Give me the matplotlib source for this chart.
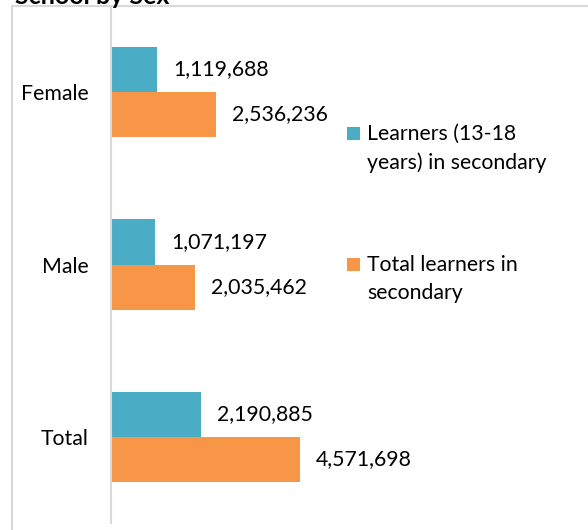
import matplotlib
matplotlib.use('Agg')
import matplotlib.pyplot as plt
from matplotlib.patches import Rectangle

plt.rcParams['font.family'] = ['Lato', 'DejaVu Sans']

# 数据
categories = ['Female', 'Male', 'Total']
learners_13_18 = [1119688, 1071197, 2190885]
total_learners = [2536236, 2035462, 4571698]
series_names = ['Learners (13-18\nyears) in secondary', 'Total learners in\nsecondary']

teal = '#4BACC6'
orange = '#F79646'
grid_gray = '#D9D9D9'

W, H = 588, 530
fig = plt.figure(figsize=(W / 100, H / 100), dpi=100)

# 外框 (被裁切)
fig.patches.append(Rectangle((12 / W, -0.2), 2, 1.2 - 6 / H, transform=fig.transFigure,
                             fill=False, edgecolor=grid_gray, linewidth=1.5))

# 被裁切的标题
fig.text(15 / W, 1 - 4 / H, 'School by Sex', fontsize=18, fontweight='bold',
         va='baseline', ha='left')

ax = fig.add_axes([111 / W, 1 - 523.25 / H, 227 / W, 517.5 / H])
ax.set_xlim(0, 5.5e6)
ax.set_ylim(2.5, -0.5)

h = 0.261
pos = list(range(len(categories)))
b1 = ax.barh([p - h / 2 for p in pos], learners_13_18, height=h, color=teal)
b2 = ax.barh([p + h / 2 for p in pos], total_learners, height=h, color=orange)

for bars, vals in ((b1, learners_13_18), (b2, total_learners)):
    for rect, v in zip(bars, vals):
        ax.annotate(f'{v:,}', (rect.get_width(), rect.get_y() + rect.get_height() / 2),
                    xytext=(16, 0), textcoords='offset pixels', va='center', ha='left',
                    fontsize=15.3, clip_on=False)

ax.set_yticks(pos)
ax.set_yticklabels(categories, fontsize=15.3)
ax.tick_params(axis='y', length=0, pad=16)
ax.set_xticks([])
for s in ('top', 'right', 'bottom'):
    ax.spines[s].set_visible(False)
ax.spines['left'].set_color(grid_gray)
ax.spines['left'].set_linewidth(1.5)

# 图例 (手动放置)
for color, label, ytop in ((teal, series_names[0], 127), (orange, series_names[1], 258)):
    fig.patches.append(Rectangle((347 / W, 1 - (ytop + 13) / H), 13 / W, 13 / H,
                                 transform=fig.transFigure, facecolor=color, edgecolor='none'))
    fig.text(367 / W, 1 - (ytop - 3) / H, label, fontsize=15.3, va='top', ha='left',
             linespacing=1.52)

fig.savefig('out.png', dpi=100)
